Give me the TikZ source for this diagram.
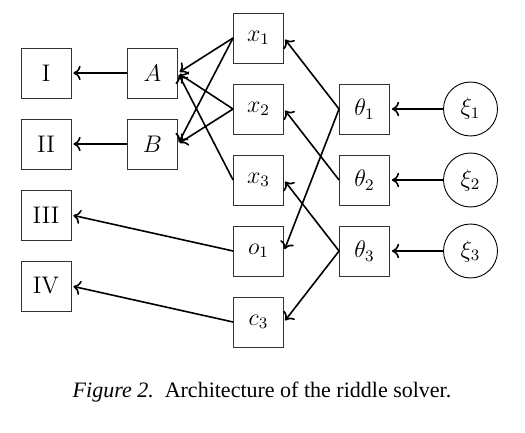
\documentclass[tikz,border=0pt]{standalone}
\usepackage{fontspec}
\usetikzlibrary{arrows.meta}
\newfontfamily\capfont{Liberation Serif}
\begin{document}
\begin{tikzpicture}[x=0.5pt,y=-0.5pt,
  font=\fontsize{12}{14.4}\selectfont,
  bx/.style={draw, line width=0.45pt, draw=black!80, minimum size=25pt, inner sep=0pt},
  cx/.style={draw, circle, line width=0.45pt, minimum size=27pt, inner sep=0pt},
  ar/.style={-{To[length=3.6pt,width=7.2pt]}, line width=0.8pt, shorten >=1pt}]
\useasboundingbox (0,0) rectangle (525,433);
% left column
\node[bx] (I)   at (46,73)  {I};
\node[bx] (II)  at (46,144) {II};
\node[bx] (III) at (46,215) {III};
\node[bx] (IV)  at (46,286) {IV};
\node[bx] (A)   at (152.5,73)  {$A$};
\node[bx] (B)   at (152.5,144) {$B$};
% middle column
\node[bx] (x1) at (258.5,38)  {$x_1$};
\node[bx] (x2) at (258.5,109) {$x_2$};
\node[bx] (x3) at (258.5,180) {$x_3$};
\node[bx] (o1) at (258.5,251) {$o_1$};
\node[bx] (c3) at (258.5,322) {$c_3$};
% theta column
\node[bx] (t1) at (364.5,109) {$\theta_1$};
\node[bx] (t2) at (364.5,180) {$\theta_2$};
\node[bx] (t3) at (364.5,251) {$\theta_3$};
% xi column
\node[cx] (k1) at (470.5,109) {$\xi_1$};
\node[cx] (k2) at (470.5,180) {$\xi_2$};
\node[cx] (k3) at (470.5,251) {$\xi_3$};
% edges
\draw[ar] (A.west) -- (I.east);
\draw[ar] (B.west) -- (II.east);
\draw[ar] (o1.west) -- (III.east);
\draw[ar] (c3.west) -- (IV.east);
\draw[ar] (x1.west) -- (A.east);
\draw[ar] (x1.west) -- (B.east);
\draw[ar] (x2.west) -- (A.east);
\draw[ar] (x2.west) -- (B.east);
\draw[ar] (x3.west) -- (A.east);
\draw[ar] (t1.west) -- (x1.east);
\draw[ar] (t1.west) -- (o1.east);
\draw[ar] (t2.west) -- (x2.east);
\draw[ar] (t3.west) -- (x3.east);
\draw[ar] (t3.west) -- (c3.east);
\draw[ar] (k1.west) -- (t1.east);
\draw[ar] (k2.west) -- (t2.east);
\draw[ar] (k3.west) -- (t3.east);
% caption
\node[font=\capfont\fontsize{11}{13.2}\selectfont] (cap) at (262,392) {\textit{Figure 2.}\ \ Architecture of the riddle solver.};
\end{tikzpicture}
\end{document}
